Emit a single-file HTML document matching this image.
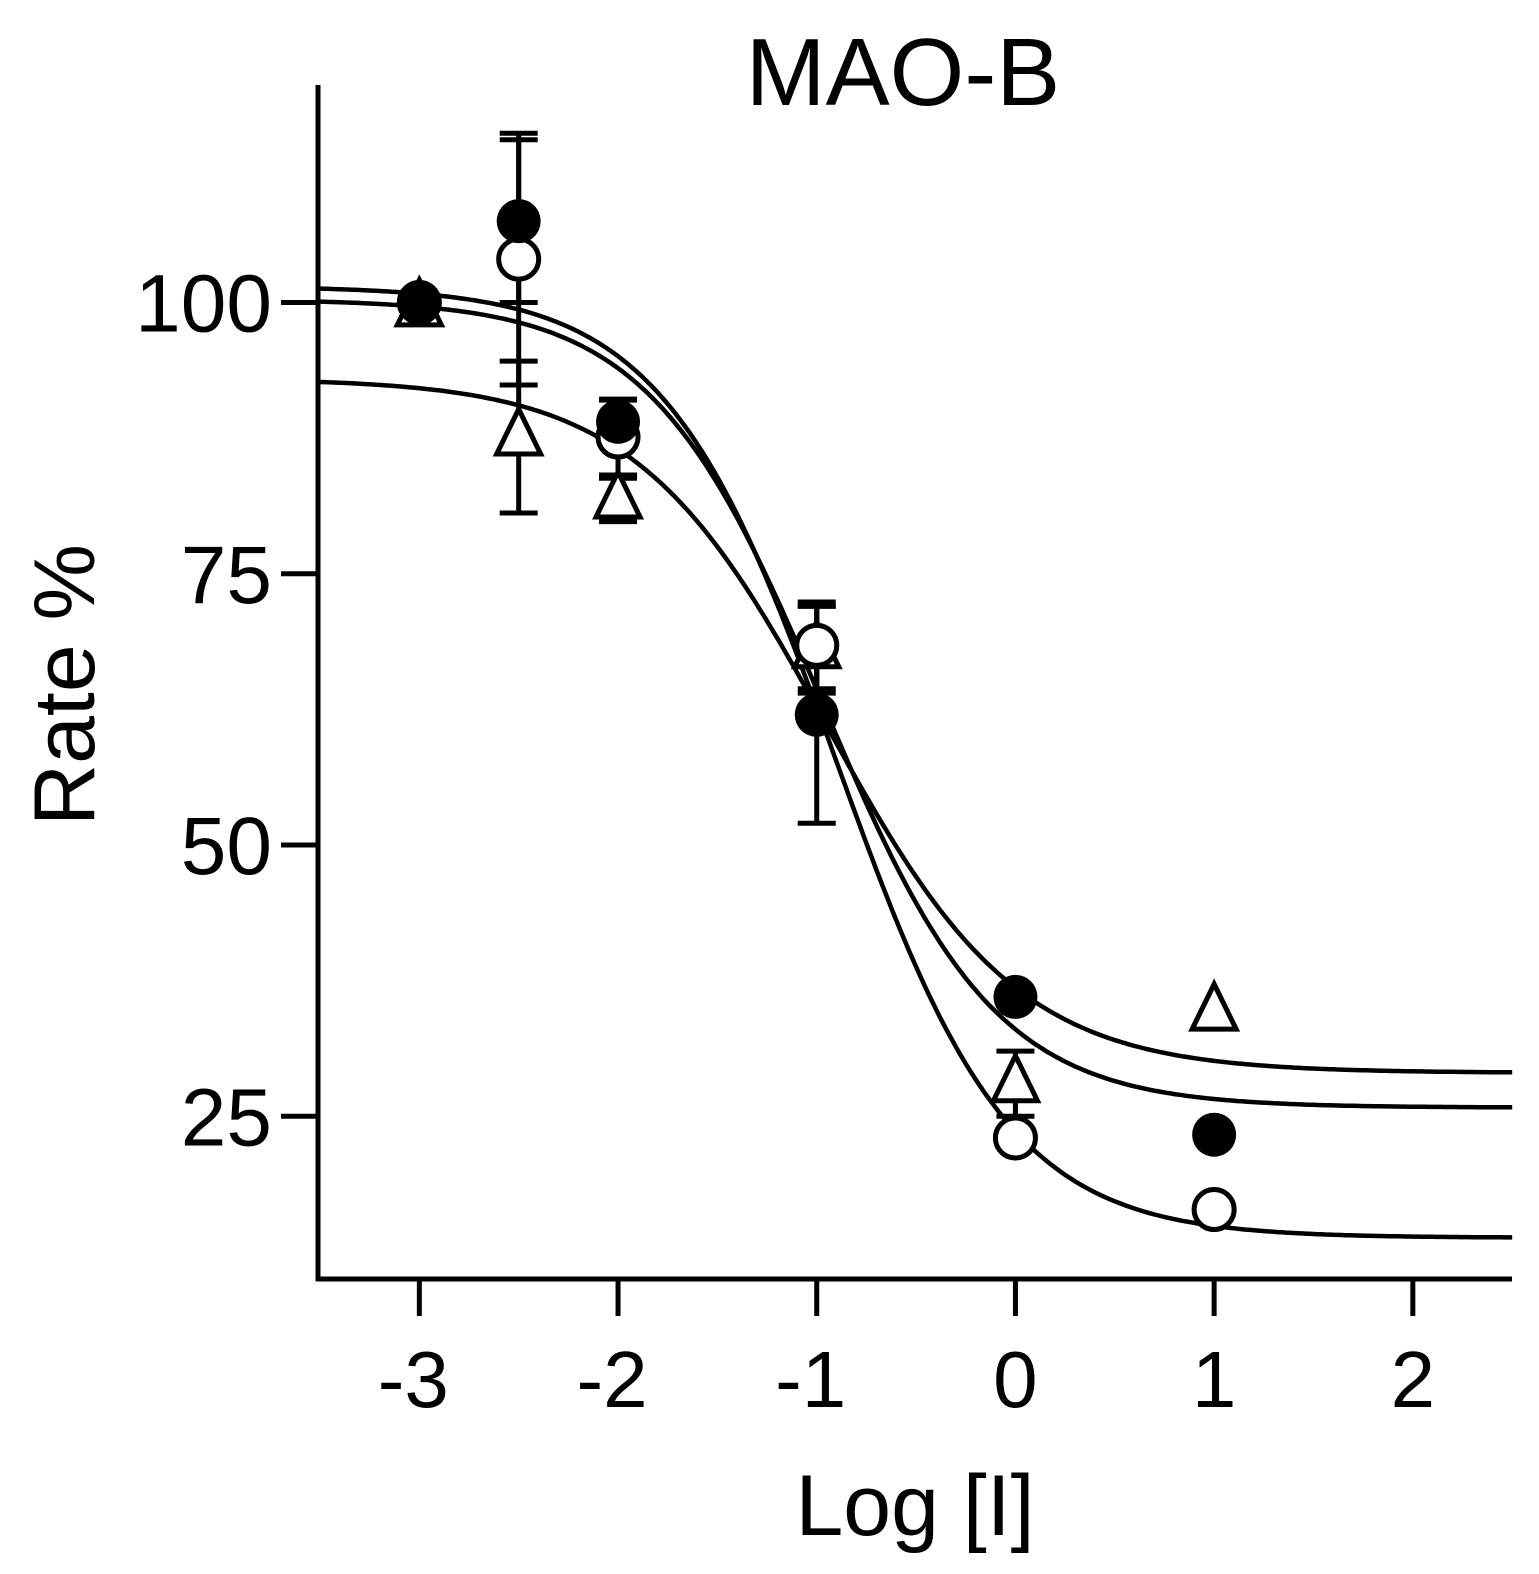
<!DOCTYPE html>
<html><head><meta charset="utf-8"><style>
html,body{margin:0;padding:0;background:#fff}
svg{display:block;font-family:"Liberation Sans",Arial,sans-serif}
</style></head><body>
<svg id="chart" width="1539" height="1574" viewBox="0 0 1539 1574">
<text x="903" y="105" font-size="96" text-anchor="middle">MAO-B</text>
<text transform="translate(94,685) rotate(-90)" font-size="86" text-anchor="middle">Rate %</text>
<text x="915" y="1535" font-size="86" text-anchor="middle">Log [I]</text>
<g id="axes"></g>
<g id="curves"></g>
<g id="marks"></g>
</svg>
<script>
const xTicks=[-3,-2,-1,0,1,2];
const yTicks=[25,50,75,100];
const xs=[-3,-2.5,-2,-1,0,1];
const filledVals=[100,107.5,89,62,36,23.3];
const filledErr=[0,7.5,2,10,0,0];
const openVals=[100,104,87.6,68.4,23,16.4];
const openErr=[0,11.6,3.5,4,0,0];
const triVals=[99.5,87.6,81.8,68,28,34.6];
const triErr=[0,7,2,4,3,0];
const curveTops=[93,100.3,101.5];
const curveBottoms=[29,25.8,13.8];
const curveEC50=[-0.95,-0.97,-0.9];
const curveHill=[0.9,1.0,1.0];
const X=v=>318+(v+3.51)*198.7;
const Y=v=>1279-(v-10)*10.85;
const NS="http://www.w3.org/2000/svg";
function mk(t,a,p){const e=document.createElementNS(NS,t);for(const k in a)e.setAttribute(k,a[k]);p.appendChild(e);return e;}
const ax=document.getElementById('axes');
const yl=mk('line',{x1:318,y1:85,x2:318,y2:1281,stroke:'#000','stroke-width':5},ax);


const xl=mk('line',{x1:316,y1:1279,x2:1512,y2:1279,stroke:'#000','stroke-width':5},ax);


xTicks.forEach(t=>{
 const l=mk('line',{x1:X(t),y1:1279,x2:X(t),y2:1316,stroke:'#000','stroke-width':5},ax);
 
 
 const tx=mk('text',{x:X(t)+(t<0?-6:0),y:1407,'font-size':80,'text-anchor':'middle'},ax);tx.textContent=t;
 
 
});
yTicks.forEach(t=>{
 const l=mk('line',{x1:281,y1:Y(t),x2:318,y2:Y(t),stroke:'#000','stroke-width':5},ax);
 
 
 const tx=mk('text',{x:272,y:Y(t)+29,'font-size':82,'text-anchor':'end'},ax);tx.textContent=t;
 
 
});
const cg=document.getElementById('curves');
for(let i=0;i<3;i++){let d='';
 for(let x=-3.5;x<=2.5001;x+=0.02){const v=curveBottoms[i]+(curveTops[i]-curveBottoms[i])/(1+Math.pow(10,(x-curveEC50[i])*curveHill[i]));d+=(d?'L':'M')+X(x).toFixed(1)+','+Y(v).toFixed(1);}
 const p=mk('path',{d:d,fill:'none',stroke:'#000','stroke-width':4.5},cg);
 
 
}
const mg=document.getElementById('marks');
function err(x,v,e){if(!e)return;const cx=X(x);
 const g=mk('path',{d:`M${cx},${Y(v+e)}V${Y(v-e)}M${cx-19},${Y(v+e)}H${cx+19}M${cx-19},${Y(v-e)}H${cx+19}`,stroke:'#000','stroke-width':5,fill:'none'},mg);
 
 }
xs.forEach((x,i)=>{err(x,triVals[i],triErr[i]);err(x,openVals[i],openErr[i]);err(x,filledVals[i],filledErr[i]);});
xs.forEach((x,i)=>{const cx=X(x),cy=Y(triVals[i]);
 const t=mk('polygon',{points:`${cx},${cy-28} ${cx-22},${cy+17} ${cx+22},${cy+17}`,fill:'#fff',stroke:'#000','stroke-width':5},mg);
 
 });
xs.forEach((x,i)=>{const c=mk('circle',{cx:X(x),cy:Y(openVals[i]),r:20,fill:'#fff',stroke:'#000','stroke-width':5},mg);
 
 });
xs.forEach((x,i)=>{const c=mk('circle',{cx:X(x),cy:Y(filledVals[i]),r:22,fill:'#000'},mg);
 
 });
</script>
</body></html>
